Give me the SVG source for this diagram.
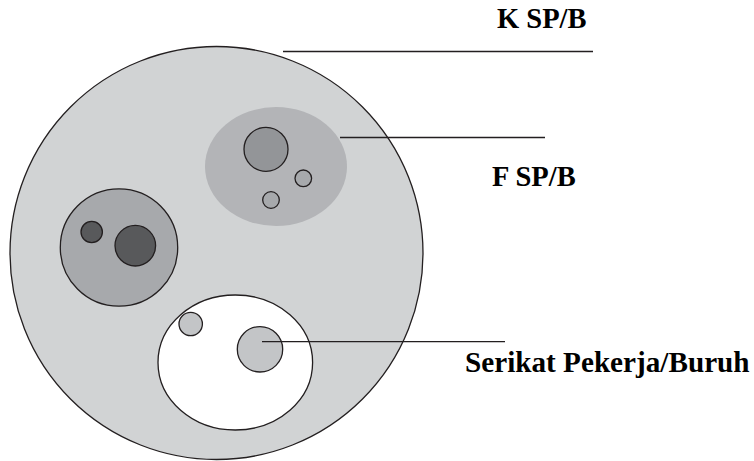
<svg xmlns="http://www.w3.org/2000/svg" width="754" height="461" viewBox="0 0 754 461">
<style>
.s{stroke:#231f20;stroke-width:1.3}
.lbl{font-family:"Liberation Serif","Times New Roman",serif;font-weight:bold;font-size:28.5px;fill:#000}
.ln{stroke:#231f20;stroke-width:1.3;fill:none}
</style>
<rect width="754" height="461" fill="#fff"/>
<g id="k-spb">
<circle class="s" cx="216.5" cy="253" r="206.5" fill="#d1d3d4"/>
</g>
<g id="f-spb-1">
<ellipse cx="276" cy="166.5" rx="71" ry="59.5" fill="#b3b4b7"/>
<circle class="s" cx="266" cy="149.3" r="22" fill="#939598"/>
<circle class="s" cx="303.3" cy="178.3" r="8.3" fill="#a7a9ac"/>
<circle class="s" cx="271" cy="200" r="8.3" fill="#a7a9ac"/>
</g>
<g id="f-spb-2">
<circle class="s" cx="119" cy="247.5" r="58.7" fill="#a7a9ac"/>
<circle class="s" cx="91.7" cy="232" r="10.7" fill="#58595b"/>
<circle class="s" cx="135.3" cy="245.7" r="20.3" fill="#58595b"/>
</g>
<g id="f-spb-3">
<ellipse class="s" cx="235.3" cy="362.5" rx="77.3" ry="67.5" fill="#fff"/>
<circle class="s" cx="190.7" cy="324" r="11.7" fill="#c3c5c7"/>
<circle class="s" cx="260" cy="349.3" r="22.7" fill="#c3c5c7"/>
</g>
<g id="connectors">
<line class="ln" x1="283" y1="51.5" x2="593" y2="51.5"/>
<line class="ln" x1="340" y1="137.5" x2="545" y2="137.5"/>
<line class="ln" x1="262" y1="341.7" x2="505" y2="341.7"/>
</g>
<g id="labels">
<text class="lbl" x="497" y="27.5">K SP/B</text>
<text class="lbl" x="492" y="186">F SP/B</text>
<text class="lbl" x="465" y="372" style="font-size:29.2px">Serikat Pekerja/Buruh</text>
</g>
</svg>
